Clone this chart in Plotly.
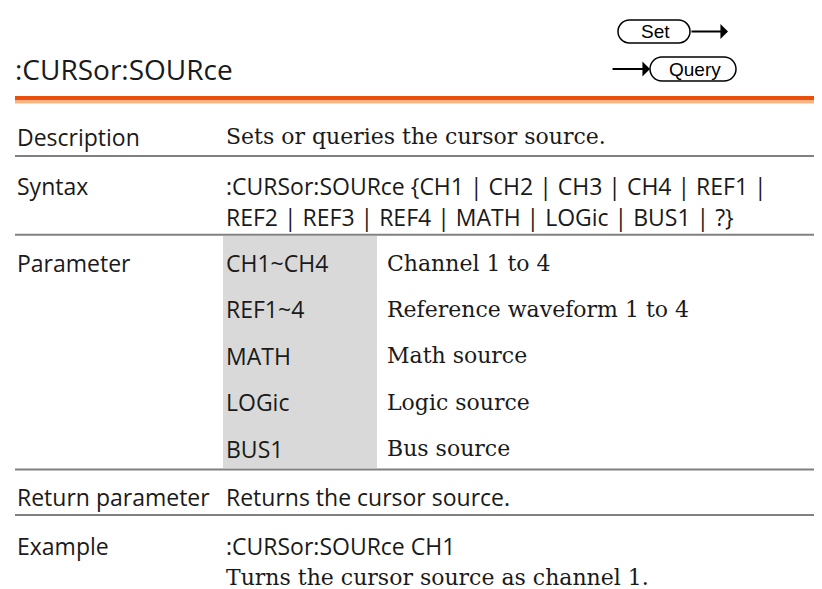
import plotly.graph_objects as go

# ---------------- content ----------------
title_text = ":CURSor:SOURce"
badge_labels = ["Set", "Query"]
row_labels = ["Description", "Syntax", "Parameter", "Return parameter", "Example"]
description_text = "Sets or queries the cursor source."
syntax_lines = [":CURSor:SOURce {CH1 | CH2 | CH3 | CH4 | REF1 |",
                "REF2 | REF3 | REF4 | MATH | LOGic | BUS1 | ?}"]
param_names = ["CH1~CH4", "REF1~4", "MATH", "LOGic", "BUS1"]
param_desc = ["Channel 1 to 4", "Reference waveform 1 to 4", "Math source",
              "Logic source", "Bus source"]
return_text = "Returns the cursor source."
example_cmd = ":CURSor:SOURce CH1"
example_desc = "Turns the cursor source as channel 1."

# ---------------- layout constants ----------------
W, H = 822, 589
SANS = "Open Sans"
SERIF = "DejaVu Serif"
SANS_SIZE = 23
SERIF_SIZE = 22
INK = "#1a1a1a"
RULE = "#808080"
X_LABEL, X_COL2, X_COL3 = 7, 216, 377
GRAY_X0, GRAY_X1 = 215, 369

# row geometry (y grows downward)
y_desc = 128.5
y_syntax = [178, 209]
param_top, param_bot = 228, 460
n_param = len(param_names)
row_h = (param_bot - param_top) / n_param
y_params = [param_top + row_h * i + 27 for i in range(n_param)]
y_return = 489
y_example = [537.5, 569]
rules_y = [148, 226.8, 461.5, 507]

fig = go.Figure()
shapes = []
annotations = []


def txt(x, y, s, family, size, color=INK, xanchor="left"):
    annotations.append(dict(x=x, y=y, xref="x", yref="y", text=s, showarrow=False,
                            xanchor=xanchor, yanchor="middle",
                            font=dict(family=family, size=size, color=color)))


def stadium(x0, x1, y0, y1):
    r = (y1 - y0) / 2
    k = 0.5523 * r
    yc = (y0 + y1) / 2
    p = (f"M {x0 + r},{y0} L {x1 - r},{y0} "
         f"C {x1 - r + k},{y0} {x1},{yc - k} {x1},{yc} "
         f"C {x1},{yc + k} {x1 - r + k},{y1} {x1 - r},{y1} "
         f"L {x0 + r},{y1} "
         f"C {x0 + r - k},{y1} {x0},{yc + k} {x0},{yc} "
         f"C {x0},{yc - k} {x0 + r - k},{y0} {x0 + r},{y0} Z")
    shapes.append(dict(type="path", path=p, xref="x", yref="y",
                       line=dict(color="#000000", width=1.5), fillcolor="white"))


# title
txt(X_LABEL - 2, 61, title_text, SANS, 28)

# Set / Query badges
set_box = (610, 682, 12, 35)
query_box = (642, 728, 49, 73)
stadium(*set_box)
stadium(*query_box)
txt((set_box[0] + set_box[1]) / 2 + 1, (set_box[2] + set_box[3]) / 2, badge_labels[0],
    "Liberation Sans", 19, "#000000", "center")
txt((query_box[0] + query_box[1]) / 2 + 2, (query_box[2] + query_box[3]) / 2, badge_labels[1],
    "Liberation Sans", 19, "#000000", "center")
annotations.append(dict(x=720, y=23.5, ax=set_box[1], ay=23.5, xref="x", yref="y",
                        axref="x", ayref="y", text="", showarrow=True, arrowhead=1,
                        arrowsize=1.4, arrowwidth=1.8, arrowcolor="#000000"))
annotations.append(dict(x=query_box[0], y=61, ax=603, ay=61, xref="x", yref="y",
                        axref="x", ayref="y", text="", showarrow=True, arrowhead=1,
                        arrowsize=1.4, arrowwidth=1.8, arrowcolor="#000000"))

# orange header rule
shapes.append(dict(type="rect", x0=7, x1=W, y0=88, y1=92.5, xref="x", yref="y",
                   line=dict(width=0), fillcolor="#E8500C"))
shapes.append(dict(type="rect", x0=7, x1=W, y0=92.5, y1=95.5, xref="x", yref="y",
                   line=dict(width=0), fillcolor="#F6B684"))

# gray parameter column
shapes.append(dict(type="rect", x0=GRAY_X0, x1=GRAY_X1, y0=param_top, y1=param_bot,
                   xref="x", yref="y", line=dict(width=0), fillcolor="#D9D9D9", layer="below"))

# gray row rules
for ry in rules_y:
    shapes.append(dict(type="line", x0=7, x1=W, y0=ry, y1=ry, xref="x", yref="y",
                       line=dict(color=RULE, width=2)))

# row labels
label_y = [y_desc, y_syntax[0], y_params[0], y_return, y_example[0]]
for lab, ly in zip(row_labels, label_y):
    txt(X_LABEL, ly, lab, SANS, SANS_SIZE)

# contents
txt(X_COL2, y_desc, description_text, SERIF, SERIF_SIZE)
for s, sy in zip(syntax_lines, y_syntax):
    txt(X_COL2, sy, s, SANS, SANS_SIZE)
for name, desc, py in zip(param_names, param_desc, y_params):
    txt(X_COL2, py, name, SANS, SANS_SIZE)
    txt(X_COL3, py, desc, SERIF, SERIF_SIZE)
txt(X_COL2, y_return, return_text, SANS, SANS_SIZE)
txt(X_COL2, y_example[0], example_cmd, SANS, SANS_SIZE)
txt(X_COL2, y_example[1], example_desc, SERIF, SERIF_SIZE)

fig.update_layout(
    width=W, height=H, margin=dict(l=0, r=0, t=0, b=0),
    paper_bgcolor="white", plot_bgcolor="white",
    xaxis=dict(range=[0, W], visible=False, fixedrange=True),
    yaxis=dict(range=[H, 0], visible=False, fixedrange=True),
    shapes=shapes, annotations=annotations, showlegend=False,
)

fig.write_html("out.html")
